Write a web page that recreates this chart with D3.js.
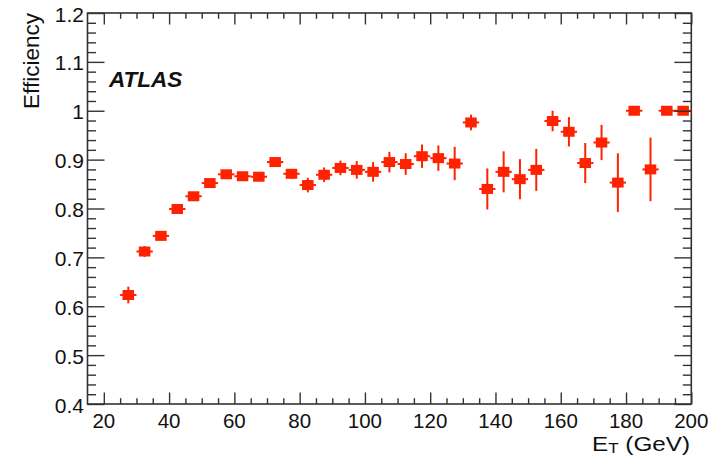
<!DOCTYPE html>
<html>
<head>
<meta charset="utf-8">
<script src="https://cdn.jsdelivr.net/npm/d3@7"></script>
<style>
  html, body { margin: 0; padding: 0; background: #fff; }
  svg { display: block; }
  text { font-family: "Liberation Sans", Arial, Helvetica, sans-serif; fill: #111; }
</style>
</head>
<body>
<svg id="chart" width="719" height="456"></svg>
<script>
// ---- data ----
const binCenters = [27.5, 32.5, 37.5, 42.5, 47.5, 52.5, 57.5, 62.5, 67.5, 72.5,
  77.5, 82.5, 87.5, 92.5, 97.5, 102.5, 107.5, 112.5, 117.5, 122.5,
  127.5, 132.5, 137.5, 142.5, 147.5, 152.5, 157.5, 162.5, 167.5, 172.5,
  177.5, 182.5, 187.5, 192.5, 197.5];
const binHalfWidth = 2.5;
const efficiency = [0.623, 0.712, 0.744, 0.799, 0.825, 0.852, 0.870, 0.866, 0.865, 0.895,
  0.871, 0.848, 0.869, 0.883, 0.879, 0.875, 0.895, 0.891, 0.907, 0.903,
  0.892, 0.976, 0.840, 0.875, 0.860, 0.879, 0.979, 0.957, 0.893, 0.935,
  0.853, 1.000, 0.880, 1.000, 1.000];
const errors = [0.017, 0.011, 0.009, 0.008, 0.008, 0.008, 0.008, 0.008, 0.008, 0.010,
  0.010, 0.015, 0.015, 0.015, 0.018, 0.020, 0.021, 0.022, 0.024, 0.026,
  0.034, 0.016, 0.042, 0.042, 0.041, 0.043, 0.021, 0.030, 0.041, 0.036,
  0.060, 0.000, 0.065, 0.000, 0.000];
const xTickLabels = [20, 40, 60, 80, 100, 120, 140, 160, 180, 200];
const yTickLabels = [0.4, 0.5, 0.6, 0.7, 0.8, 0.9, 1, 1.1, 1.2];
const xDomain = [15, 200];
const yDomain = [0.4, 1.2];

// ---- layout ----
const svg = d3.select("#chart");
const L = 87.5, R = 691.3, T = 13, B = 404;
const x = d3.scaleLinear().domain(xDomain).range([L, R]);
const y = d3.scaleLinear().domain(yDomain).range([B, T]);
const red = "#ff2200";
const axisColor = "#333";

const xMinor = d3.range(20, 200.001, 5).filter(v => v % 20 !== 0);
const yMinor = d3.range(0, 41).map(i => +(0.4 + i * 0.02).toFixed(2)).filter(v => Math.round(v * 100) % 10 !== 0);

function tickAxis(gen, transform, values, size) {
  const g = svg.append("g").attr("transform", transform)
    .call(gen.tickValues(values).tickSize(size).tickFormat(""));
  g.select(".domain").remove();
  g.selectAll("line").attr("stroke", axisColor).attr("stroke-width", 1.4);
  return g;
}
tickAxis(d3.axisTop(x), `translate(0,${B})`, xTickLabels, 11.5);
tickAxis(d3.axisTop(x), `translate(0,${B})`, xMinor, 5.8);
tickAxis(d3.axisBottom(x), `translate(0,${T})`, xTickLabels, 11.5);
tickAxis(d3.axisBottom(x), `translate(0,${T})`, xMinor, 5.8);
tickAxis(d3.axisRight(y), `translate(${L},0)`, yTickLabels, 17);
tickAxis(d3.axisRight(y), `translate(${L},0)`, yMinor, 8.5);

svg.append("rect").attr("x", L).attr("y", T).attr("width", R - L).attr("height", B - T)
  .attr("fill", "none").attr("stroke", axisColor).attr("stroke-width", 1.6);

svg.append("g").selectAll("text").data(xTickLabels).join("text")
  .attr("x", d => x(d)).attr("y", 428)
  .attr("text-anchor", "middle").attr("font-size", 20.5)
  .text(d => d);
svg.append("g").selectAll("text").data(yTickLabels).join("text")
  .attr("x", 84).attr("y", d => y(d) + 8.5)
  .attr("text-anchor", "end").attr("font-size", 21)
  .text(d => d);

const pts = binCenters.map((c, i) => ({ c, v: efficiency[i], e: errors[i] }));
const gp = svg.append("g");
gp.selectAll("line.h").data(pts).join("line").attr("class", "h")
  .attr("x1", d => x(d.c - binHalfWidth)).attr("x2", d => x(d.c + binHalfWidth))
  .attr("y1", d => y(d.v)).attr("y2", d => y(d.v))
  .attr("stroke", red).attr("stroke-width", 2);
gp.selectAll("line.v").data(pts.filter(d => d.e > 0)).join("line").attr("class", "v")
  .attr("x1", d => x(d.c)).attr("x2", d => x(d.c))
  .attr("y1", d => y(d.v - d.e)).attr("y2", d => y(Math.min(d.v + d.e, 1.2)))
  .attr("stroke", red).attr("stroke-width", 2);
const mw = 11.5, mh = 10;
gp.selectAll("rect").data(pts).join("rect")
  .attr("x", d => x(d.c) - mw / 2).attr("y", d => y(d.v) - mh / 2)
  .attr("width", mw).attr("height", mh).attr("fill", red);

tickAxis(d3.axisLeft(y), `translate(${R},0)`, yTickLabels, 17);
tickAxis(d3.axisLeft(y), `translate(${R},0)`, yMinor, 8.5);

svg.append("text").attr("transform", "translate(38.5,13) rotate(-90)")
  .attr("text-anchor", "end").attr("font-size", 22.5).text("Efficiency");

const xl = svg.append("text").attr("x", 690).attr("y", 450.5)
  .attr("text-anchor", "end").attr("font-size", 20)
  .attr("textLength", 98).attr("lengthAdjust", "spacingAndGlyphs");
xl.append("tspan").text("E");
xl.append("tspan").attr("font-size", 14).attr("dy", 2.5).text("T");
xl.append("tspan").attr("dy", -2.5).text(" (GeV)");

svg.append("text").attr("x", 109).attr("y", 87)
  .attr("font-size", 22.5).attr("font-weight", "bold").attr("font-style", "italic")
  .text("ATLAS");
</script>
</body>
</html>
